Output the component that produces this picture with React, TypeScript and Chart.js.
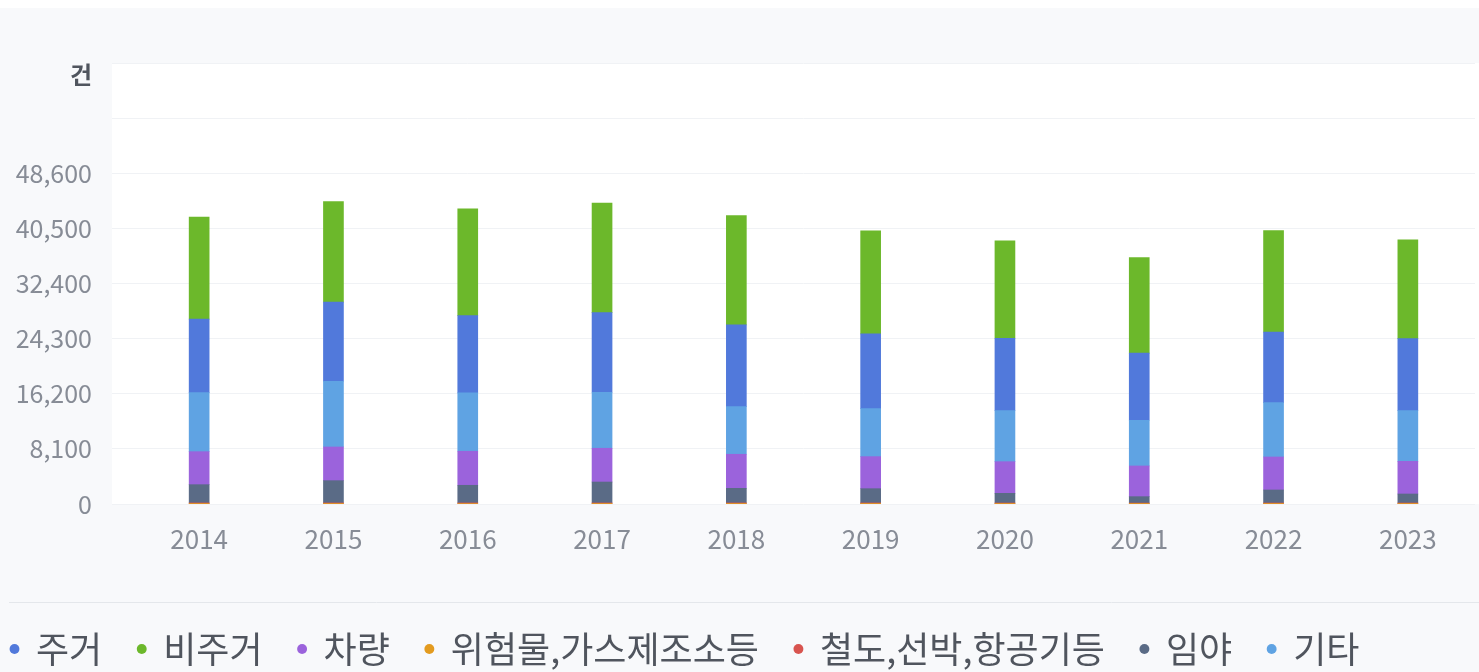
import React, { useEffect, useRef } from "react";
import { Chart, registerables } from "chart.js";

Chart.register(...registerables);

const categories = ["2014", "2015", "2016", "2017", "2018", "2019", "2020", "2021", "2022", "2023"];

const jugeo = [10790, 11620, 11370, 11710, 12010, 10980, 10640, 9860, 10350, 10590];
const bijugeo = [14990, 14790, 15690, 16080, 16070, 15140, 14310, 14055, 14940, 14510];
const vehicle = [4850, 4950, 5000, 4960, 5010, 4710, 4650, 4510, 4850, 4800];
const hazard = [50, 50, 60, 50, 50, 50, 50, 40, 50, 50];
const rail = [110, 110, 100, 110, 110, 110, 100, 100, 100, 100];
const forest = [2680, 3270, 2590, 3070, 2140, 2090, 1420, 940, 1910, 1320];
const etc = [8680, 9660, 8570, 8230, 7000, 7060, 7500, 6710, 7990, 7450];

const yStep = 8100;
const yMax = 64800;
const yLabelMax = 48600;
const unitLabel = "건";

// legend order (by dataset label)
const legendOrder = ["주거", "비주거", "차량", "위험물,가스제조소등", "철도,선박,항공기등", "임야", "기타"];

const FONT = '"Noto Sans CJK KR", "Noto Sans", sans-serif';

export default function App() {
  const ref = useRef<HTMLCanvasElement | null>(null);

  useEffect(() => {
    if (!ref.current) return;
    Chart.defaults.font.family = FONT;

    const decor = {
      id: "decor",
      beforeInit(chart: any) {
        const lg = chart.legend;
        if (lg) {
          const orig = lg.fit;
          lg.fit = function () {
            orig.call(this);
            this.height = 83;
          };
        }
      },
      afterLayout(chart: any) {
        if (chart.legend) chart.legend.left = -25;
      },
      beforeDraw(chart: any) {
        const { ctx, chartArea } = chart;
        ctx.save();
        ctx.fillStyle = "#ffffff";
        ctx.fillRect(chartArea.left - 20, chartArea.top, chart.width - chartArea.left + 20, chartArea.bottom - chartArea.top);
        ctx.restore();
      },
      afterDraw(chart: any) {
        const { ctx, chartArea } = chart;
        ctx.save();
        ctx.strokeStyle = "#e4e7eb";
        ctx.lineWidth = 1;
        ctx.beginPath();
        ctx.moveTo(9, 594.5);
        ctx.lineTo(chart.width, 594.5);
        ctx.stroke();
        ctx.fillStyle = "#50555e";
        ctx.font = "bold 24px " + FONT;
        ctx.textAlign = "right";
        ctx.textBaseline = "middle";
        ctx.fillText(unitLabel, 92, chartArea.top + 12);
        ctx.restore();
      },
    };

    const chart = new Chart(ref.current, {
      type: "bar",
      data: {
        labels: categories,
        datasets: [
          { label: "위험물,가스제조소등", data: hazard, backgroundColor: "#e39b1f" },
          { label: "철도,선박,항공기등", data: rail, backgroundColor: "#d8544f" },
          { label: "임야", data: forest, backgroundColor: "#5a6b86" },
          { label: "차량", data: vehicle, backgroundColor: "#9b63dc" },
          { label: "기타", data: etc, backgroundColor: "#5fa3e3" },
          { label: "주거", data: jugeo, backgroundColor: "#5179db" },
          { label: "비주거", data: bijugeo, backgroundColor: "#6cb82b" },
        ],
      },
      options: {
        animation: false,
        responsive: false,
        maintainAspectRatio: false,
        layout: { padding: { top: 55, right: 4, left: 0, bottom: 0 } },
        datasets: { bar: { barThickness: 20, borderWidth: 0 } },
        plugins: {
          tooltip: { enabled: false },
          legend: {
            position: "bottom",
            align: "start",
            labels: {
              usePointStyle: true,
              pointStyle: "circle",
              boxWidth: 7,
              boxHeight: 7,
              padding: 36,
              color: "#50555e",
              font: { size: 36, family: FONT },
              sort: (a: any, b: any) => legendOrder.indexOf(a.text) - legendOrder.indexOf(b.text),
            },
          },
        },
        scales: {
          x: {
            stacked: true,
            grid: { display: false, drawTicks: false },
            border: { display: false },
            ticks: { color: "#878c96", font: { size: 26, family: FONT }, padding: 20 },
            afterFit: (s: any) => {
              s.height = 91;
            },
          },
          y: {
            stacked: true,
            min: 0,
            max: yMax,
            border: { display: false },
            grid: { color: "#f0f2f5", tickLength: 20, drawTicks: true },
            ticks: {
              stepSize: yStep,
              color: "#878c96",
              padding: 20,
              font: { size: 25, family: FONT },
              callback: (v: any) => (Number(v) > yLabelMax ? "" : Number(v).toLocaleString("en-US")),
            },
            afterFit: (s: any) => {
              s.width = 132;
            },
          },
        },
      },
      plugins: [decor],
    });
    return () => chart.destroy();
  }, []);

  return (
    <div
      style={{
        position: "absolute",
        left: 0,
        top: 8,
        width: 1479,
        height: 664,
        overflow: "hidden",
        background: "#f8f9fb",
      }}
    >
      <canvas ref={ref} width={1479} height={670} style={{ display: "block" }} />
    </div>
  );
}
